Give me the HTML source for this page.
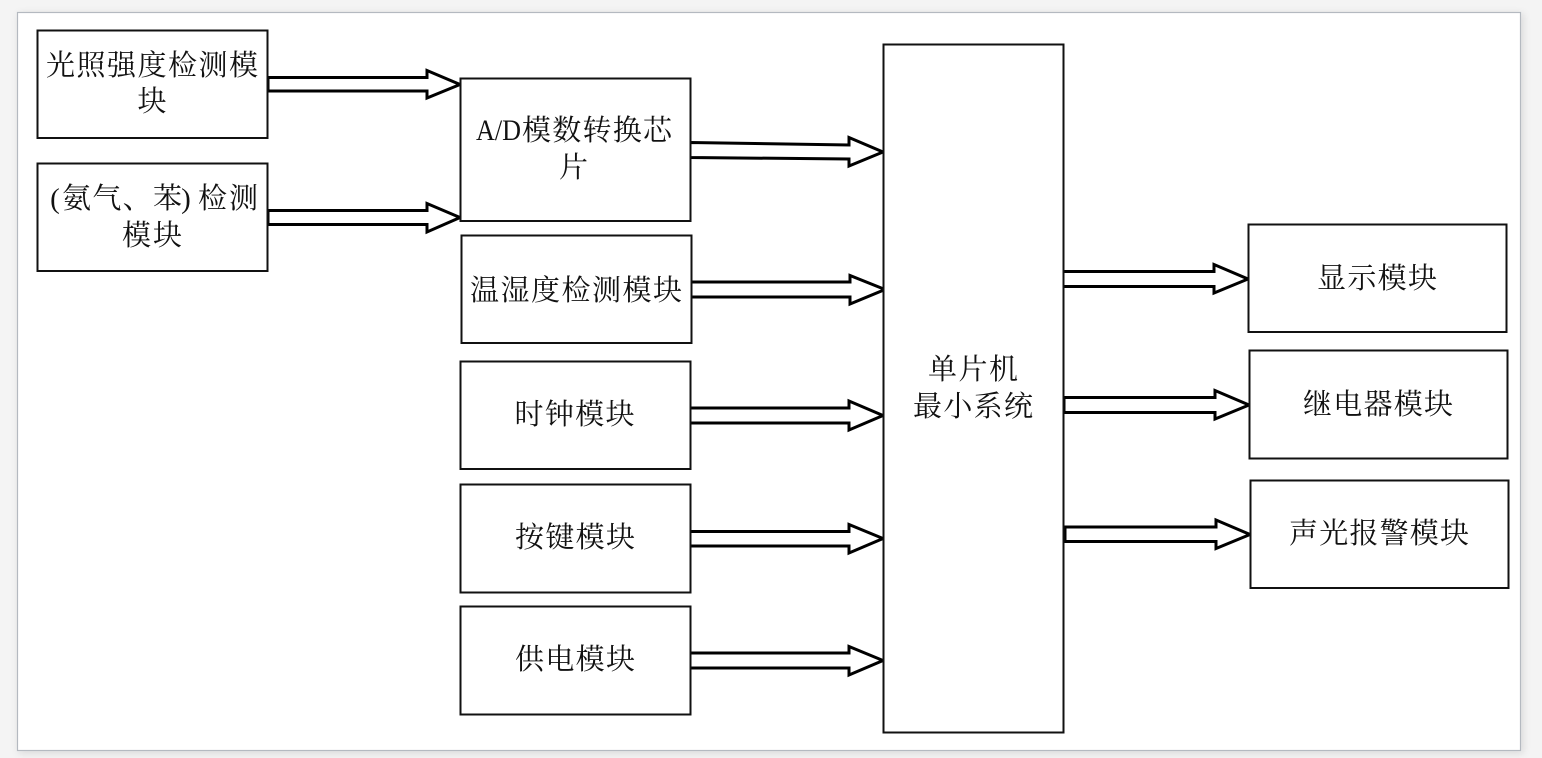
<!DOCTYPE html>
<html><head><meta charset="utf-8"><style>
html,body{margin:0;padding:0;width:1542px;height:758px;overflow:hidden;background:#f4f4f4}
svg{display:block}
text{font-family:"Liberation Serif","Noto Serif CJK SC",serif;font-size:29px;fill:#111;text-anchor:middle}
.b{fill:#fff;stroke:#111;stroke-width:2}
.a{fill:#fff;stroke:#000;stroke-width:3;stroke-linejoin:miter}
</style></head><body>
<svg width="1542" height="758" viewBox="0 0 1542 758">
<defs><filter id="s" x="-2%" y="-2%" width="104%" height="104%"><feDropShadow dx="2" dy="2" stdDeviation="4" flood-color="#000" flood-opacity=".12"/></filter></defs>
<rect x="17.5" y="12.5" width="1503" height="738" fill="#fff" stroke="#b4b9c0" stroke-width="1.2" filter="url(#s)"/>

<path class="a" d="M268,77.5H427V70.5L460,84.5L427,98V91H268Z"/>
<path class="a" d="M268,210.5H427V203.5L460,217.5L427,232V224.5H268Z"/>
<path class="a" d="M690,142.5L849,145V137.5L883,152L849,166V159L690,157.5Z"/>
<path class="a" d="M691,282H850V275.5L885,289.5L850,304V297H691Z"/>
<path class="a" d="M690,408H849V401L883,415.5L849,430V423H690Z"/>
<path class="a" d="M690,531.5H849V524.5L883,538.5L849,553V546H690Z"/>
<path class="a" d="M690,653H849V646.5L883,660.5L849,675V668H690Z"/>
<path class="a" d="M1063,271.5H1214V264.5L1248,279L1214,293V286.5H1063Z"/>
<path class="a" d="M1064,397.5H1215V390.5L1249,405L1215,419V412.5H1064Z"/>
<path class="a" d="M1065,527H1216V520L1250,534.5L1216,548.5V541.5H1065Z"/>

<rect class="b" x="37.5" y="30.5" width="230" height="107.5"/>
<rect class="b" x="37.5" y="163.5" width="230" height="107.5"/>
<rect class="b" x="460.5" y="78.5" width="230" height="142.5"/>
<rect class="b" x="461.5" y="235.5" width="230" height="107.5"/>
<rect class="b" x="460.5" y="361.5" width="230" height="107.5"/>
<rect class="b" x="460.5" y="484.5" width="230" height="108"/>
<rect class="b" x="460.5" y="606.5" width="230" height="108"/>
<rect class="b" x="883.5" y="44.5" width="180" height="688"/>
<rect class="b" x="1248.5" y="224.5" width="258" height="107.5"/>
<rect class="b" x="1249.5" y="350.5" width="258" height="108"/>
<rect class="b" x="1250.5" y="480.5" width="258" height="107.5"/>

<text x="152" y="75" textLength="212">光照强度检测模</text>
<text x="152" y="111">块</text>
<text x="55" y="208">(</text>
<text x="122" y="208" textLength="120">氨气、苯</text>
<text x="186" y="208">)</text>
<text x="228" y="208" textLength="60">检测</text>
<text x="152" y="245" textLength="60">模块</text>
<text x="498.5" y="140" textLength="45" lengthAdjust="spacingAndGlyphs" style="font-size:30px">A/D</text>
<text x="597" y="140" textLength="150">模数转换芯</text>
<text x="573.5" y="177">片</text>
<text x="576" y="300" textLength="212">温湿度检测模块</text>
<text x="574.5" y="424" textLength="120">时钟模块</text>
<text x="575" y="547" textLength="120">按键模块</text>
<text x="575" y="669" textLength="120">供电模块</text>
<text x="973" y="379" textLength="90">单片机</text>
<text x="973" y="416" textLength="120">最小系统</text>
<text x="1377" y="288" textLength="120">显示模块</text>
<text x="1378" y="414" textLength="150">继电器模块</text>
<text x="1379" y="543" textLength="180">声光报警模块</text>
</svg>
</body></html>
